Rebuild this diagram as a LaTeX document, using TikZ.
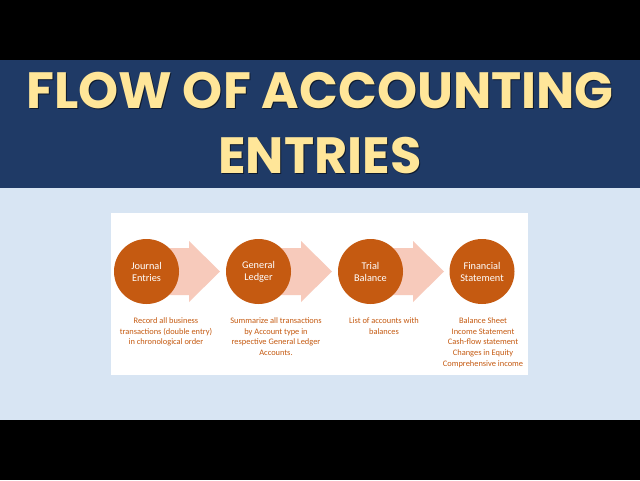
\documentclass[tikz,border=0pt]{standalone}
\usepackage{fontspec}
\setmainfont{Carlito}
\newfontfamily\titlefont{Poppins}
\definecolor{navy}{HTML}{1F3A66}
\definecolor{skyback}{HTML}{D8E5F3}
\definecolor{titleyellow}{HTML}{FFE699}
\definecolor{burnt}{HTML}{C55A11}
\definecolor{salmon}{HTML}{F7CABB}
\tikzset{
  stepcircle/.style={circle,fill=burnt,minimum size=65pt,inner sep=0pt,text=white,align=center,font=\fontsize{10.3}{12}\selectfont},
  desc/.style={text=burnt,align=center,font=\fontsize{8.4}{10.7}\selectfont,anchor=north,inner sep=0pt},
  titletext/.style={text=titleyellow,font=\titlefont\bfseries\fontsize{51}{60}\selectfont,inner sep=0pt},
  titleshadow/.style={titletext,text=black!55!navy}
}
\begin{document}
\begin{tikzpicture}[x=1pt,y=-1pt]
\useasboundingbox (0,0) rectangle (640,480);
\fill[black] (0,0) rectangle (640,480);
\fill[skyback] (0,188) rectangle (640,420);
\fill[navy] (0,60) rectangle (640,188);
\node[titleshadow] (s1) at (321,92) {FLOW OF ACCOUNTING};
\node[titleshadow] (s2) at (321,157) {ENTRIES};
\node[titletext] (t1) at (320,91) {FLOW OF ACCOUNTING};
\node[titletext] (t2) at (320,156) {ENTRIES};
\fill[white] (111,213) rectangle (528,375);
% arrows
\foreach \cx in {146.5,258.5,370.5}{
  \fill[salmon] (\cx,248) -- (\cx+42.5,248) -- (\cx+42.5,241) -- (\cx+73.5,271.5) -- (\cx+42.5,302) -- (\cx+42.5,295) -- (\cx,295) -- cycle;
}
\node[stepcircle] (c1) at (146.5,271.5) {Journal\\Entries};
\node[stepcircle] (c2) at (258.5,271.5) {General\\Ledger};
\node[stepcircle] (c3) at (370.5,271.5) {Trial\\Balance};
\node[stepcircle] (c4) at (482,271.5) {Financial\\Statement};
\node[desc] (d1) at (166,317.5) {Record all business\\transactions (double entry)\\in chronological order};
\node[desc] (d2) at (276,317.5) {Summarize all transactions\\by Account type in\\respective General Ledger\\Accounts.};
\node[desc] (d3) at (384,317.5) {List of accounts with\\balances};
\node[desc] (d4) at (483,317.5) {Balance Sheet\\Income Statement\\Cash-flow statement\\Changes in Equity\\Comprehensive income};
\end{tikzpicture}
\end{document}
